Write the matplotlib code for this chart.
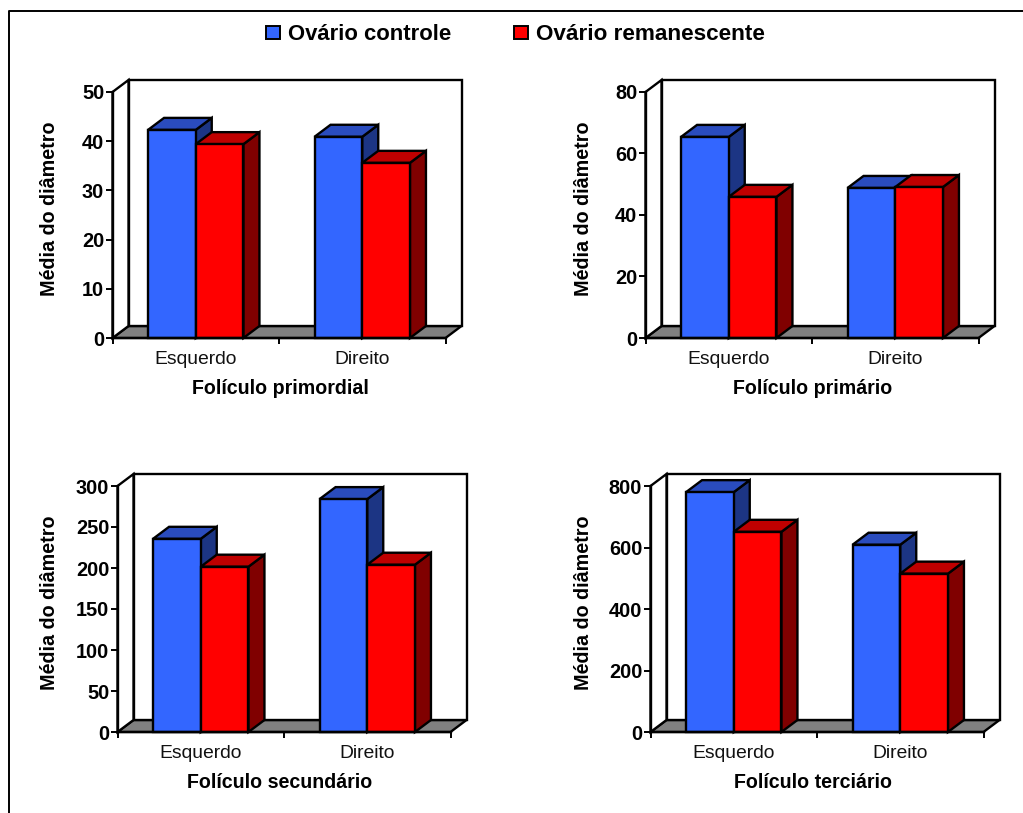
import matplotlib
matplotlib.use('Agg')
import matplotlib.pyplot as plt
from matplotlib.patches import Polygon, Rectangle
from matplotlib.lines import Line2D

plt.rcParams['font.family'] = ['Liberation Sans', 'DejaVu Sans']

### data
categories = ['Esquerdo', 'Direito']
series_names = ['Ovário controle', 'Ovário remanescente']
titles = ['Folículo primordial', 'Folículo primário', 'Folículo secundário', 'Folículo terciário']
ylabel = 'Média do diâmetro'

controle = [[42.3, 40.9], [65.4, 48.8], [235.6, 284], [780, 609]]
remanescente = [[39.4, 35.6], [45.9, 49.1], [201.6, 204], [651, 515]]
yticks = [
    [0, 10, 20, 30, 40, 50],
    [0, 20, 40, 60, 80],
    [0, 50, 100, 150, 200, 250, 300],
    [0, 200, 400, 600, 800],
]

### layout, in pixels
W, H = 1023, 813
panel_w, panel_h = 333, 246
panels = [(112.5, 338), (645.5, 338), (117.5, 732), (650.5, 732)]   # left, bottom of front plane
label_x = [49.5, 583.5, 49.5, 583.5]
title_x = [280, 813, 280, 813]
depth_x, depth_y = 16, 12
bar_frac = 47.7 / 166.5

colors = {
    'blue': ('#3366FF', '#2A4CBE', '#1C3584'),
    'red': ('#FF0000', '#BF0000', '#800000'),
}
lw = 1.7

fig = plt.figure(figsize=(W / 100, H / 100), dpi=100)

def draw_bar(ax, x0, width, val, dx, dy, cols):
    front, top, side = cols
    x1 = x0 + width
    ax.add_patch(Polygon([(x1, 0), (x1 + dx, dy), (x1 + dx, val + dy), (x1, val)],
                         fc=side, ec='black', lw=lw, zorder=3, clip_on=False))
    ax.add_patch(Polygon([(x0, val), (x0 + dx, val + dy), (x1 + dx, val + dy), (x1, val)],
                         fc=top, ec='black', lw=lw, zorder=3, clip_on=False))
    ax.add_patch(Rectangle((x0, 0), width, val, fc=front, ec='black', lw=lw, zorder=4, clip_on=False))

def make_panel(i):
    left, bottom = panels[i]
    ax = fig.add_axes([left / W, 1 - bottom / H, panel_w / W, panel_h / H])
    ymax = yticks[i][-1]
    ncat = len(categories)
    ax.set_xlim(0, ncat)
    ax.set_ylim(0, ymax)
    ax.patch.set_visible(False)
    for s in ax.spines.values():
        s.set_visible(False)

    dx = depth_x / panel_w * ncat
    dy = depth_y / panel_h * ymax

    # floor and walls
    ax.add_patch(Polygon([(0, 0), (dx, dy), (ncat + dx, dy), (ncat, 0)],
                         fc='#808080', ec='black', lw=lw, clip_on=False, zorder=1))
    ax.add_patch(Rectangle((dx, dy), ncat, ymax, fc='white', ec='black', lw=lw, clip_on=False, zorder=1))
    ax.add_patch(Polygon([(0, 0), (dx, dy), (dx, ymax + dy), (0, ymax)],
                         fc='white', ec='black', lw=lw, clip_on=False, zorder=1))

    for c in range(ncat):
        start = c + 0.5 - bar_frac
        draw_bar(ax, start, bar_frac, controle[i][c], dx, dy, colors['blue'])
        draw_bar(ax, start + bar_frac, bar_frac, remanescente[i][c], dx, dy, colors['red'])

    # front axes drawn over the floor
    ax.add_line(Line2D([0, ncat], [0, 0], color='black', lw=lw, zorder=5, clip_on=False))
    ax.add_line(Line2D([0, 0], [0, ymax], color='black', lw=lw, zorder=5, clip_on=False))

    ax.set_xticks(range(ncat + 1))
    ax.set_xticklabels([])
    ax.tick_params(axis='x', direction='out', length=4, width=1.4, color='black')
    ax.set_yticks(yticks[i])
    ax.tick_params(axis='y', direction='out', length=5, width=1.4, color='black', pad=1, labelsize=14.4)
    for t in ax.get_yticklabels():
        t.set_fontweight('bold')

    for c, name in enumerate(categories):
        ax.text(c + 0.5, -21 / panel_h * ymax, name, ha='center', va='center', fontsize=13.9, color='#111111')
    fig.text(title_x[i] / W, 1 - (bottom + 50) / H, titles[i], ha='center', va='center', fontsize=14.1,
             fontweight='bold')
    fig.text(label_x[i] / W, 1 - (bottom - 129) / H, ylabel, rotation=90, ha='center', va='center',
             fontsize=14.2, fontweight='bold')

for i in range(4):
    make_panel(i)

### overlay for the frame and the shared legend
ov = fig.add_axes([0, 0, 1, 1], zorder=10)
ov.set_xlim(0, W)
ov.set_ylim(H, 0)
ov.axis('off')
ov.add_line(Line2D([9, 9, 1023], [813, 11, 11], color='black', lw=1.4))

for x, label, col, size in ((266, series_names[0], colors['blue'][0], 15.9),
                            (514, series_names[1], colors['red'][0], 16.2)):
    ov.add_patch(Rectangle((x, 26), 13.5, 13.5, fc=col, ec='black', lw=1.4))
    ov.text(x + 22, 34, label, ha='left', va='center', fontsize=size, fontweight='bold')

fig.savefig('out.png', dpi=100)
